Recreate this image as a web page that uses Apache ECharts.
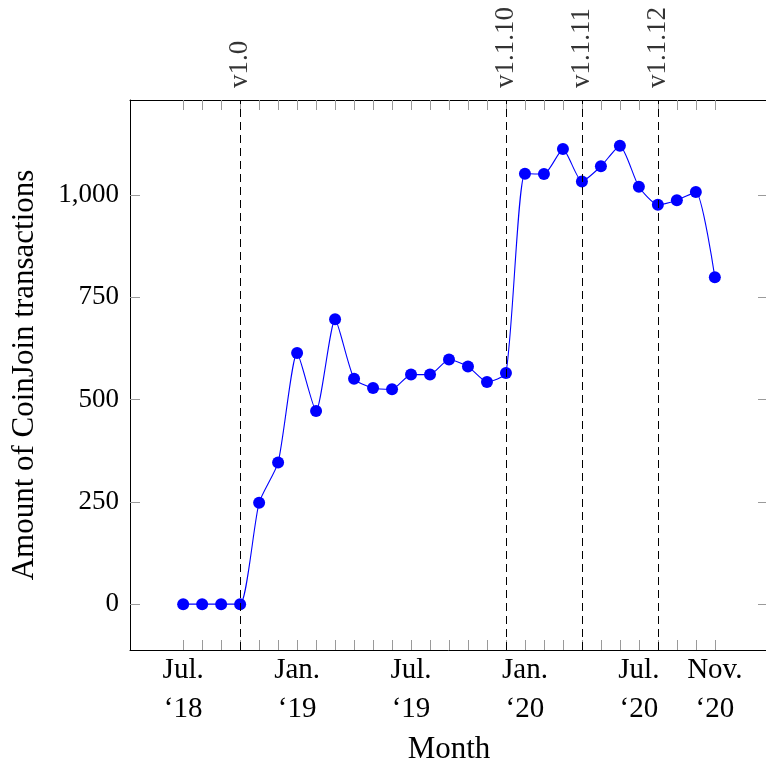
<!DOCTYPE html>
<html>
<head>
<meta charset="utf-8">
<script src="https://cdn.jsdelivr.net/npm/echarts@6/dist/echarts.min.js"></script>
<style>html,body{margin:0;padding:0;background:#fff}#c{width:766px;height:762px}</style>
</head>
<body>
<div id="c"></div>
<script>
// Month index 0 = Jul. 2018 ... 28 = Nov. 2020
const monthIdx = Array.from({length: 29}, (_, i) => i);
const values = [0, 0, 0, 0, 248, 346, 614, 472, 696, 551, 528, 525, 561, 561, 598, 581, 543, 565,
                1052, 1051, 1112, 1033, 1070, 1120, 1020, 976, 987, 1007, 799];
const xTickValues = [0, 6, 12, 18, 24, 28];
const xTickLabels = ['Jul.\n\u201818', 'Jan.\n\u201819', 'Jul.\n\u201819', 'Jan.\n\u201820', 'Jul.\n\u201820', 'Nov.\n\u201820'];
const yTickValues = [0, 250, 500, 750, 1000];
const releaseIdx = [3, 17, 21, 25];
const releaseNames = ['v1.0', 'v1.1.10', 'v1.1.11', 'v1.1.12'];

const X_MIN = -2.8, X_MAX = 30.8, Y_MIN = -112, Y_MAX = 1232;
const FONT = 'Liberation Serif';

const chart = echarts.init(document.getElementById('c'), null, {renderer: 'canvas'});
const tickStyle = {color: '#9a9a9a', width: 1};
const lineStyle = {color: '#000', width: 1};

chart.setOption({
  animation: false,
  backgroundColor: '#fff',
  textStyle: {fontFamily: FONT, color: '#000'},
  grid: {left: 130, top: 100, width: 638, height: 550, containLabel: false, outerBoundsMode: 'none'},
  xAxis: [{
    type: 'value', min: X_MIN, max: X_MAX, position: 'bottom',
    axisLine: {show: true, onZero: false, lineStyle: lineStyle},
    axisTick: {show: true, inside: true, length: 10, customValues: monthIdx, lineStyle: tickStyle},
    axisLabel: {
      customValues: xTickValues, margin: 1, fontFamily: FONT, fontSize: 29, color: '#000', lineHeight: 39,
      formatter: v => xTickLabels[xTickValues.indexOf(Math.round(v))] || ''
    },
    splitLine: {show: false},
    name: 'Month', nameLocation: 'middle', nameGap: 81,
    nameTextStyle: {fontFamily: FONT, fontSize: 31, color: '#000'}
  }, {
    type: 'value', min: X_MIN, max: X_MAX, position: 'top',
    axisLine: {show: true, onZero: false, lineStyle: lineStyle},
    axisTick: {show: true, inside: true, length: 10, customValues: monthIdx, lineStyle: tickStyle},
    axisLabel: {show: false},
    splitLine: {show: false}
  }],
  yAxis: [{
    type: 'value', min: Y_MIN, max: Y_MAX, position: 'left',
    axisLine: {show: true, onZero: false, lineStyle: lineStyle},
    axisTick: {show: true, inside: true, length: 10, customValues: yTickValues, lineStyle: tickStyle},
    axisLabel: {
      customValues: yTickValues, margin: 11, fontFamily: FONT, fontSize: 27, color: '#000',
      formatter: v => Math.round(v).toLocaleString('en-US')
    },
    splitLine: {show: false},
    name: 'Amount of CoinJoin transactions', nameLocation: 'middle', nameGap: 90, nameRotate: 90,
    nameTextStyle: {fontFamily: FONT, fontSize: 31, color: '#000'}
  }, {
    type: 'value', min: Y_MIN, max: Y_MAX, position: 'right',
    axisLine: {show: true, onZero: false, lineStyle: lineStyle},
    axisTick: {show: true, inside: true, length: 10, customValues: yTickValues, lineStyle: tickStyle},
    axisLabel: {show: false},
    splitLine: {show: false}
  }],
  series: [{
    type: 'line',
    xAxisIndex: 0, yAxisIndex: 0,
    data: monthIdx.map(i => [i, values[i]]),
    smooth: 0.2,
    symbol: 'circle', symbolSize: 12,
    showAllSymbol: true,
    lineStyle: {color: '#0000ff', width: 1.1},
    itemStyle: {color: '#0000ff'},
    z: 3,
    markLine: {
      silent: true, symbol: 'none',
      lineStyle: {color: '#000', type: [8, 5], width: 1},
      label: {show: false},
      data: releaseIdx.map(i => ({xAxis: i}))
    }
  }, {
    type: 'scatter',
    xAxisIndex: 0, yAxisIndex: 0,
    symbolSize: 0,
    silent: true,
    data: releaseIdx.map((i, k) => ({value: [i, Y_MAX], name: releaseNames[k]})),
    label: {
      show: true, position: 'top', distance: 12, rotate: 90,
      align: 'left', verticalAlign: 'middle',
      fontFamily: FONT, fontSize: 27, color: '#000',
      formatter: p => p.name
    }
  }]
});
</script>
</body>
</html>
